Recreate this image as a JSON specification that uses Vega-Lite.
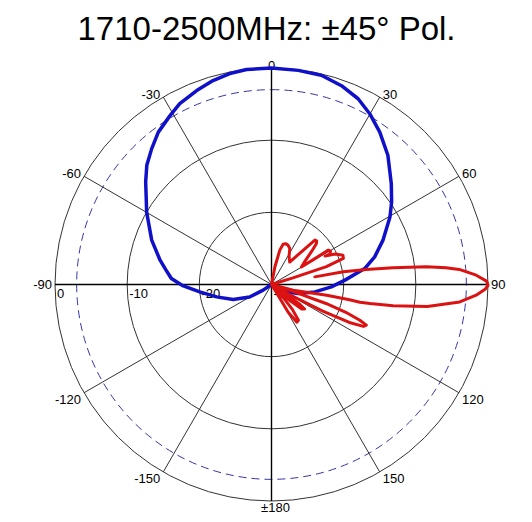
{
  "$schema": "https://vega.github.io/schema/vega-lite/v6.json",
  "width": 433,
  "height": 433,
  "autosize": {"type": "none"},
  "padding": {"left": 55, "top": 68, "right": 44, "bottom": 21},
  "background": "white",
  "title": {"text": "1710-2500MHz: ±45° Pol.", "fontSize": 33, "font": "Liberation Sans", "fontWeight": "normal", "color": "#000000", "anchor": "middle", "frame": "group", "baseline": "alphabetic", "offset": 26, "dx": -5, "dy": 39},
  "config": {"view": {"stroke": null}},
  "datasets": {
    "rings": [{"lvl": 0}, {"lvl": -10}, {"lvl": -20}, {"lvl": -3}],
    "spokes": [{"ang": 0}, {"ang": 30}, {"ang": 60}, {"ang": 90}, {"ang": 120}, {"ang": 150}, {"ang": 180}, {"ang": 210}, {"ang": 240}, {"ang": 270}, {"ang": 300}, {"ang": 330}],
    "alabels": [{"t": "0", "ang": 0}, {"t": "30", "ang": 30}, {"t": "60", "ang": 60}, {"t": "90", "ang": 90}, {"t": "120", "ang": 120}, {"t": "150", "ang": 150}, {"t": "±180", "ang": 180}, {"t": "-150", "ang": -150}, {"t": "-120", "ang": -120}, {"t": "-90", "ang": -90}, {"t": "-60", "ang": -60}, {"t": "-30", "ang": -30}],
    "rlabels": [{"t": "0", "lvl": 0}, {"t": "-10", "lvl": -10}, {"t": "-20", "lvl": -20}, {"t": "-30", "lvl": -30}],
    "blue": [{"ang":-135,"db":-30},{"ang":-124,"db":-28.6},{"ang":-119.7,"db":-26.5},{"ang":-111.3,"db":-24.3},{"ang":-102.7,"db":-22.2},{"ang":-95.9,"db":-20.0},{"ang":-90.5,"db":-17.6},{"ang":-86.6,"db":-16.1},{"ang":-82,"db":-15.2},{"ang":-77.7,"db":-14.2},{"ang":-69.7,"db":-12.3},{"ang":-59.9,"db":-10.0},{"ang":-55,"db":-8.8},{"ang":-50.8,"db":-7.5},{"ang":-46.3,"db":-6.1},{"ang":-41.4,"db":-4.9},{"ang":-36.6,"db":-3.7},{"ang":-31,"db":-2.7},{"ang":-26.9,"db":-1.9},{"ang":-21.1,"db":-1.2},{"ang":-16,"db":-0.6},{"ang":-11.2,"db":-0.2},{"ang":-6.6,"db":0},{"ang":0,"db":0},{"ang":7.1,"db":-0.1},{"ang":13.4,"db":-0.2},{"ang":19.4,"db":-0.8},{"ang":25,"db":-1.6},{"ang":29.9,"db":-2.7},{"ang":35.4,"db":-4.1},{"ang":42,"db":-5.9},{"ang":49.9,"db":-8.3},{"ang":55.5,"db":-9.8},{"ang":60.3,"db":-11.1},{"ang":68.4,"db":-13.4},{"ang":75,"db":-15.2},{"ang":80.3,"db":-16.9},{"ang":86.6,"db":-19.8},{"ang":92.3,"db":-21.7},{"ang":99.7,"db":-23.9},{"ang":108.7,"db":-26.1},{"ang":119,"db":-27.9},{"ang":125,"db":-30}],
    "red": [{"i":0,"ang":80,"db":-23.9},{"i":1,"ang":80,"db":-19.9},{"i":2,"ang":81,"db":-16.7},{"i":3,"ang":82.2,"db":-13},{"i":4,"ang":83.5,"db":-8.4},{"i":5,"ang":84.5,"db":-5.7},{"i":6,"ang":85.4,"db":-3.9},{"i":7,"ang":87.4,"db":-1.6},{"i":8,"ang":89.1,"db":-0.2},{"i":9,"ang":90.2,"db":0},{"i":10,"ang":91.3,"db":-0.4},{"i":11,"ang":93,"db":-1.6},{"i":12,"ang":95.3,"db":-3.8},{"i":13,"ang":98,"db":-8.2},{"i":14,"ang":99.9,"db":-12.9},{"i":15,"ang":100.9,"db":-16.1},{"i":16,"ang":101.3,"db":-17.5},{"i":17,"ang":101.1,"db":-19},{"i":18,"ang":101,"db":-22.2},{"i":19,"ang":104.8,"db":-26.9},{"i":20,"ang":107,"db":-30},{"i":21,"ang":108,"db":-27},{"i":22,"ang":109.2,"db":-22},{"i":23,"ang":110.5,"db":-19},{"i":24,"ang":112,"db":-16.8},{"i":25,"ang":113.2,"db":-15.7},{"i":26,"ang":114.5,"db":-16},{"i":27,"ang":116,"db":-18},{"i":28,"ang":117.5,"db":-22},{"i":29,"ang":119,"db":-27},{"i":30,"ang":121,"db":-30},{"i":31,"ang":123,"db":-28},{"i":32,"ang":125,"db":-25.3},{"i":33,"ang":126.5,"db":-24.3},{"i":34,"ang":129,"db":-24.6},{"i":35,"ang":131,"db":-26.5},{"i":36,"ang":133,"db":-30},{"i":37,"ang":137,"db":-28},{"i":38,"ang":140,"db":-25.5},{"i":39,"ang":143,"db":-23.8},{"i":40,"ang":146,"db":-23.7},{"i":41,"ang":149,"db":-25.5},{"i":42,"ang":152,"db":-30},{"i":43,"ang":8,"db":-30},{"i":44,"ang":11,"db":-27.5},{"i":45,"ang":13.6,"db":-25.1},{"i":46,"ang":16.1,"db":-24.2},{"i":47,"ang":19.5,"db":-24.0},{"i":48,"ang":22.9,"db":-24.1},{"i":49,"ang":26.9,"db":-24.4},{"i":50,"ang":32,"db":-25.4},{"i":51,"ang":39,"db":-26},{"i":52,"ang":42.6,"db":-23.7},{"i":53,"ang":44.3,"db":-21.4},{"i":54,"ang":46,"db":-21.3},{"i":55,"ang":47.7,"db":-21.6},{"i":56,"ang":50.5,"db":-22.8},{"i":57,"ang":55,"db":-24.3},{"i":58,"ang":59.6,"db":-25.2},{"i":59,"ang":59.2,"db":-23},{"i":60,"ang":58.8,"db":-20.8},{"i":61,"ang":60.5,"db":-20.6},{"i":62,"ang":62.5,"db":-20.9},{"i":63,"ang":62,"db":-21.6},{"i":64,"ang":64.5,"db":-20.2},{"i":65,"ang":67.7,"db":-19.3},{"i":66,"ang":70,"db":-19.4},{"i":67,"ang":72,"db":-22},{"i":68,"ang":73,"db":-27},{"i":69,"ang":74,"db":-30}]
  },
  "layer": [
    {
      "data": {"name": "rings"},
      "transform": [{"filter": "datum.lvl % 10 == 0"}, {"calculate": "datum.lvl + 30", "as": "r"}],
      "mark": {"type": "arc", "filled": false, "stroke": "#333333", "strokeWidth": 1, "theta": 0, "theta2": 6.2832},
      "encoding": {"radius": {"field": "r", "type": "quantitative", "stack": null, "scale": {"type": "linear", "domain": [0, 30], "range": [0, 216.5]}}}
    },
    {
      "data": {"name": "rings"},
      "transform": [{"filter": "datum.lvl == -3"}, {"calculate": "datum.lvl + 30", "as": "r"}],
      "mark": {"type": "arc", "filled": false, "stroke": "#3535a8", "strokeWidth": 1, "strokeDash": [8, 5], "theta": 0, "theta2": 6.2832},
      "encoding": {"radius": {"field": "r", "type": "quantitative", "stack": null, "scale": {"type": "linear", "domain": [0, 30], "range": [0, 216.5]}}}
    },
    {
      "data": {"name": "spokes"},
      "transform": [{"filter": "datum.ang % 90 != 0"}, {"calculate": "0", "as": "cx"}, {"calculate": "30*sin(datum.ang*PI/180)", "as": "ex"}, {"calculate": "30*cos(datum.ang*PI/180)", "as": "ey"}],
      "mark": {"type": "rule", "color": "#333333", "strokeWidth": 1},
      "encoding": {
        "x": {"field": "cx", "type": "quantitative", "scale": {"domain": [-30, 30], "nice": false, "zero": false}, "axis": null},
        "y": {"field": "cx", "type": "quantitative", "scale": {"domain": [-30, 30], "nice": false, "zero": false}, "axis": null},
        "x2": {"field": "ex"},
        "y2": {"field": "ey"}
      }
    },
    {
      "data": {"name": "spokes"},
      "transform": [{"filter": "datum.ang % 90 == 0"}, {"calculate": "0", "as": "cx"}, {"calculate": "30*sin(datum.ang*PI/180)", "as": "ex"}, {"calculate": "30*cos(datum.ang*PI/180)", "as": "ey"}],
      "mark": {"type": "rule", "color": "#000000", "strokeWidth": 1.4},
      "encoding": {
        "x": {"field": "cx", "type": "quantitative"},
        "y": {"field": "cx", "type": "quantitative"},
        "x2": {"field": "ex"},
        "y2": {"field": "ey"}
      }
    },
    {
      "data": {"name": "alabels"},
      "transform": [{"calculate": "30*sin(datum.ang*PI/180)", "as": "x"}, {"calculate": "30*cos(datum.ang*PI/180)", "as": "y"}],
      "mark": {
        "type": "text", "font": "Liberation Sans", "fontSize": 13, "color": "#000000",
        "align": {"expr": "datum.ang == 0 || datum.ang == 180 ? 'center' : (datum.ang > 0 ? 'left' : 'right')"},
        "baseline": {"expr": "abs(datum.ang) < 90 ? 'alphabetic' : (abs(datum.ang) == 90 ? 'middle' : 'top')"},
        "dx": {"expr": "datum.ang == 0 ? 0 : (datum.ang == 180 ? 4 : (datum.ang > 0 ? 3 : -3))"},
        "dy": {"expr": "abs(datum.ang) < 90 ? 2 : (abs(datum.ang) == 90 ? 0 : 1)"}
      },
      "encoding": {
        "x": {"field": "x", "type": "quantitative"},
        "y": {"field": "y", "type": "quantitative"},
        "text": {"field": "t"}
      }
    },
    {
      "data": {"name": "rlabels"},
      "transform": [{"calculate": "-(datum.lvl + 30)", "as": "x"}, {"calculate": "0", "as": "y"}],
      "mark": {"type": "text", "font": "Liberation Sans", "fontSize": 13, "color": "#000000", "align": "left", "baseline": "top", "dx": 2, "dy": 3},
      "encoding": {
        "x": {"field": "x", "type": "quantitative"},
        "y": {"field": "y", "type": "quantitative"},
        "text": {"field": "t"}
      }
    },
    {
      "data": {"name": "blue"},
      "transform": [{"calculate": "max(datum.db + 30, 0)", "as": "r"}, {"calculate": "datum.r*sin(datum.ang*PI/180)", "as": "x"}, {"calculate": "datum.r*cos(datum.ang*PI/180)", "as": "y"}],
      "mark": {"type": "line", "color": "#1010c8", "strokeWidth": 3.5, "strokeJoin": "round", "strokeCap": "round"},
      "encoding": {
        "x": {"field": "x", "type": "quantitative"},
        "y": {"field": "y", "type": "quantitative"},
        "order": {"field": "ang", "type": "quantitative"}
      }
    },
    {
      "data": {"name": "red"},
      "transform": [{"calculate": "max(datum.db + 30, 0)", "as": "r"}, {"calculate": "datum.r*sin(datum.ang*PI/180)", "as": "x"}, {"calculate": "datum.r*cos(datum.ang*PI/180)", "as": "y"}],
      "mark": {"type": "line", "color": "#dc1212", "strokeWidth": 3, "strokeJoin": "round", "strokeCap": "round"},
      "encoding": {
        "x": {"field": "x", "type": "quantitative"},
        "y": {"field": "y", "type": "quantitative"},
        "order": {"field": "i", "type": "quantitative"}
      }
    }
  ]
}
